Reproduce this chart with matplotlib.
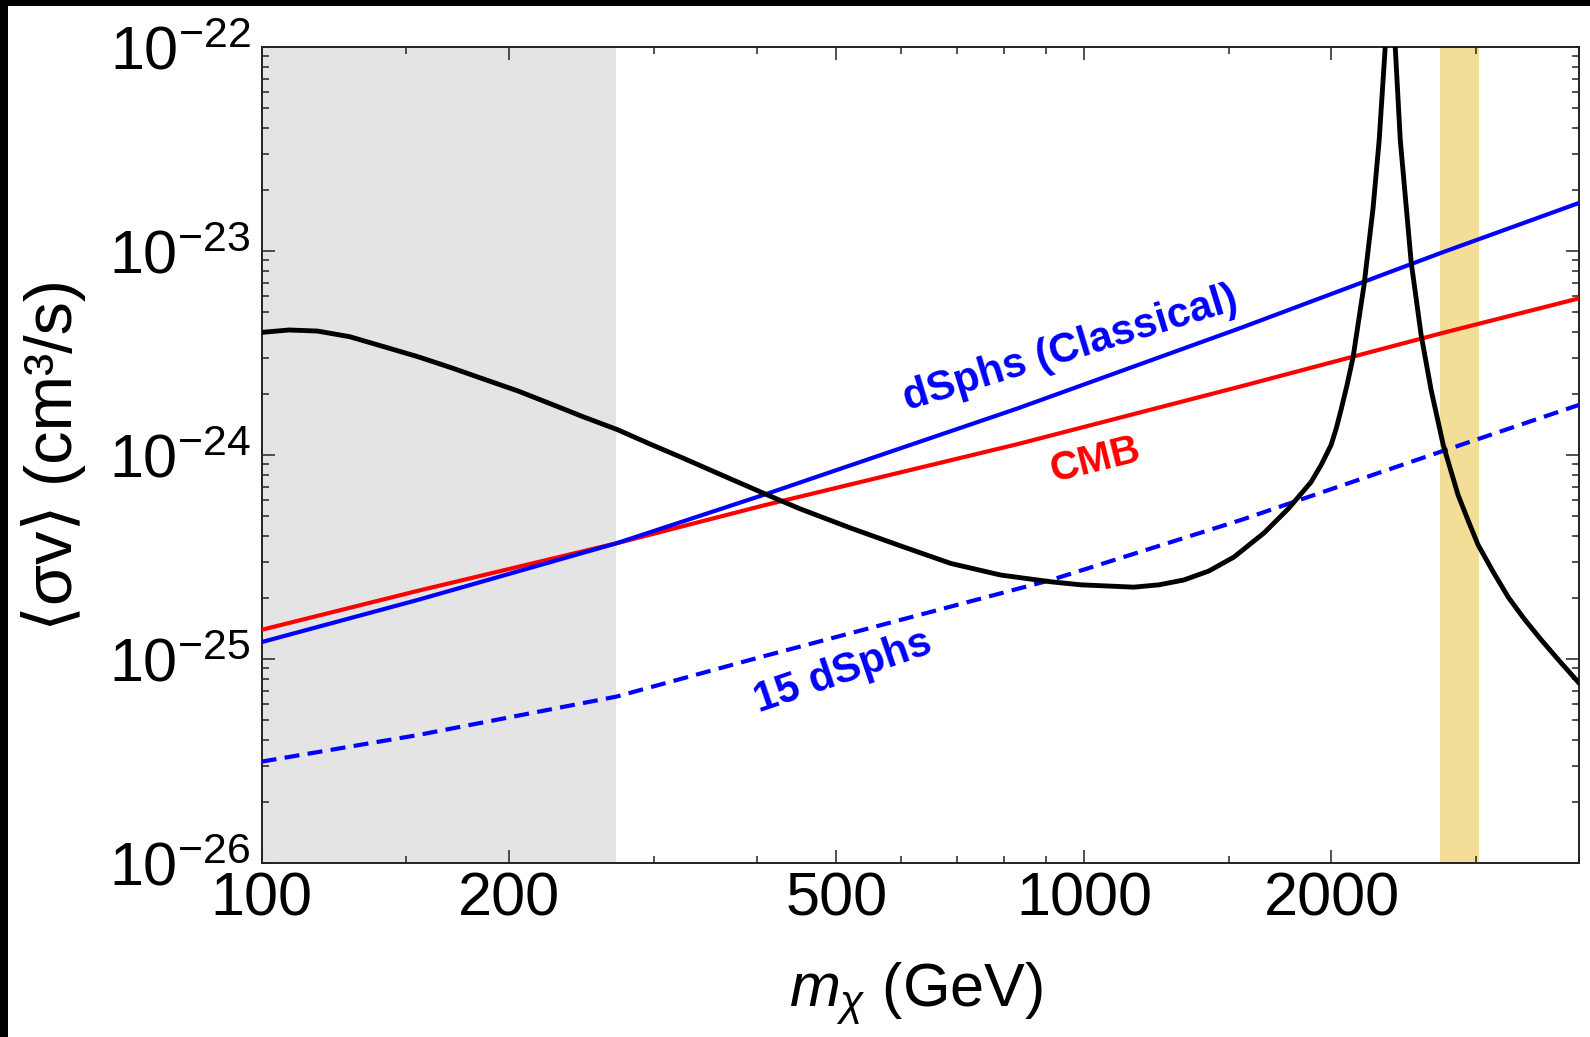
import matplotlib
matplotlib.use('Agg')
import matplotlib.pyplot as plt
from matplotlib.ticker import FixedLocator, NullFormatter, LogLocator
from matplotlib.patches import Rectangle

plt.rcParams['font.family'] = ['Liberation Sans', 'DejaVu Sans']
plt.rcParams['mathtext.fontset'] = 'custom'
plt.rcParams['mathtext.rm'] = 'Liberation Sans'
plt.rcParams['mathtext.it'] = 'Liberation Sans:italic'
plt.rcParams['mathtext.bf'] = 'Liberation Sans:bold'

# ---------------- data ----------------
# theory curve <sigma v> vs dark-matter mass (GeV)
black_m = [100, 108, 117, 128, 140, 155, 170, 186, 205, 224, 246, 271, 297, 326,
           358, 393, 416, 452, 520, 599, 689, 792, 912, 991, 1150, 1234, 1323,
           1419, 1522, 1656, 1776, 1889, 1943, 1998, 2027, 2054, 2089, 2125,
           2191, 2247, 2286, 2325, 2358, 2391, 2425, 2466, 2500, 2571, 2644,
           2735, 2851, 2934, 3016, 3146, 3281, 3432, 3599, 3796, 4000]
black_sv = [3.99e-24, 4.10e-24, 4.05e-24, 3.80e-24, 3.42e-24, 3.03e-24, 2.68e-24,
            2.36e-24, 2.06e-24, 1.79e-24, 1.54e-24, 1.33e-24, 1.13e-24, 9.63e-25,
            8.16e-25, 6.93e-25, 6.27e-25, 5.44e-25, 4.39e-25, 3.58e-25, 2.94e-25,
            2.58e-25, 2.39e-25, 2.31e-25, 2.25e-25, 2.31e-25, 2.44e-25, 2.70e-25,
            3.16e-25, 4.15e-25, 5.50e-25, 7.37e-25, 8.93e-25, 1.12e-24, 1.35e-24,
            1.66e-24, 2.20e-24, 3.02e-24, 6.81e-24, 1.62e-23, 3.50e-23, 1.00e-22,
            3.00e-22, 1.00e-22, 3.50e-23, 1.64e-23, 8.83e-24, 3.87e-24, 2.08e-24,
            1.12e-24, 6.37e-25, 4.75e-25, 3.62e-25, 2.67e-25, 2.01e-25, 1.57e-25,
            1.24e-25, 9.67e-26, 7.63e-26]

# dSphs (Classical) limit
classical_m = [100, 155, 270, 410, 830, 1552, 2720, 4000]
classical_sv = [1.21e-25, 1.95e-25, 3.69e-25, 6.42e-25, 1.69e-24, 4.20e-24, 9.80e-24, 1.72e-23]

# CMB limit
cmb_m = [100, 155, 270, 410, 830, 1552, 2720, 4000]
cmb_sv = [1.39e-25, 2.16e-25, 3.69e-25, 5.69e-25, 1.13e-24, 2.17e-24, 3.95e-24, 5.86e-24]

# 15 dSphs limit
dsph15_m = [100, 155, 270, 400, 912, 1552, 2720, 4000]
dsph15_sv = [3.14e-26, 4.24e-26, 6.54e-26, 1.01e-25, 2.44e-25, 4.80e-25, 1.04e-24, 1.76e-24]

# shaded bands (GeV)
gray_band = [100, 270]
gold_band = [2710, 3020]

# ticks
x_major = [100, 200, 500, 1000, 2000]
x_labels = ['100', '200', '500', '1000', '2000']
x_minor = [150, 300, 400, 600, 700, 800, 900, 1500, 3000, 4000]
y_major = [1e-26, 1e-25, 1e-24, 1e-23, 1e-22]
y_labels = [r'$10^{-26}$', r'$10^{-25}$', r'$10^{-24}$', r'$10^{-23}$', r'$10^{-22}$']

# ---------------- figure ----------------
W, H = 1590, 1037
fig = plt.figure(figsize=(W / 100, H / 100), dpi=100)
ax_l, ax_r, ax_t, ax_b = 261.6, 1579.0, 47.0, 863.0
ax = fig.add_axes([ax_l / W, 1 - ax_b / H, (ax_r - ax_l) / W, (ax_b - ax_t) / H])

ax.set_xscale('log')
ax.set_yscale('log')
ax.set_xlim(100, 4000)
ax.set_ylim(1e-26, 1e-22)

ax.axvspan(gray_band[0], gray_band[1], color='#E4E4E4', lw=0, zorder=0)
ax.axvspan(gold_band[0], gold_band[1], color='#F2DE97', lw=0, zorder=0)

ax.plot(dsph15_m, dsph15_sv, color='#0000FF', lw=3.0, dashes=(3.6, 2.0), zorder=3)
ax.plot(cmb_m, cmb_sv, color='#FF0000', lw=3.0, zorder=3)
ax.plot(classical_m, classical_sv, color='#0000FF', lw=3.0, zorder=4)
ax.plot(black_m, black_sv, color='black', lw=3.5, zorder=5,
        solid_joinstyle='round')

ax.text(964, 3.30e-24, 'dSphs (Classical)', color='#0000FF', fontsize=30,
        fontweight='bold', rotation=17, ha='center', va='center',
        rotation_mode='anchor')
ax.text(1031, 9.45e-25, 'CMB', color='#FF0000', fontsize=29,
        fontweight='bold', rotation=14, ha='center', va='center',
        rotation_mode='anchor')
ax.text(510, 8.63e-26, '15 dSphs', color='#0000FF', fontsize=30,
        fontweight='bold', rotation=19, ha='center', va='center',
        rotation_mode='anchor')

ax.set_xticks(x_major, labels=x_labels)
ax.xaxis.set_minor_locator(FixedLocator(x_minor))
ax.xaxis.set_minor_formatter(NullFormatter())
ax.set_yticks(y_major, labels=y_labels)
ax.yaxis.set_minor_locator(LogLocator(base=10, subs=range(2, 10), numticks=20))
ax.yaxis.set_minor_formatter(NullFormatter())

ax.tick_params(which='both', direction='in', top=True, right=True,
               color='#222222', width=1.1)
ax.tick_params(which='major', length=9.4)
ax.tick_params(which='minor', length=4.7)
ax.tick_params(axis='x', which='major', labelsize=44, pad=6)
ax.tick_params(axis='y', which='major', labelsize=44, pad=8)

for s in ax.spines.values():
    s.set_linewidth(1.4)
    s.set_color('#222222')

ax.set_xlabel(r'$m_\chi$ (GeV)', fontsize=44)
ax.xaxis.set_label_coords(0.497, -0.120)
ax.set_ylabel('⟨σv⟩ (cm³/s)', fontsize=48,
              family=['Liberation Sans', 'DejaVu Sans'])
ax.yaxis.set_label_coords(-0.133, 0.5)

# black frame edges seen in the reference image
fig.add_artist(Rectangle((0, 1 - 6 / H), 1, 6 / H, transform=fig.transFigure,
                         color='black', lw=0))
fig.add_artist(Rectangle((0, 0), 8 / W, 1, transform=fig.transFigure,
                         color='black', lw=0))

fig.savefig('out.png', dpi=100)
